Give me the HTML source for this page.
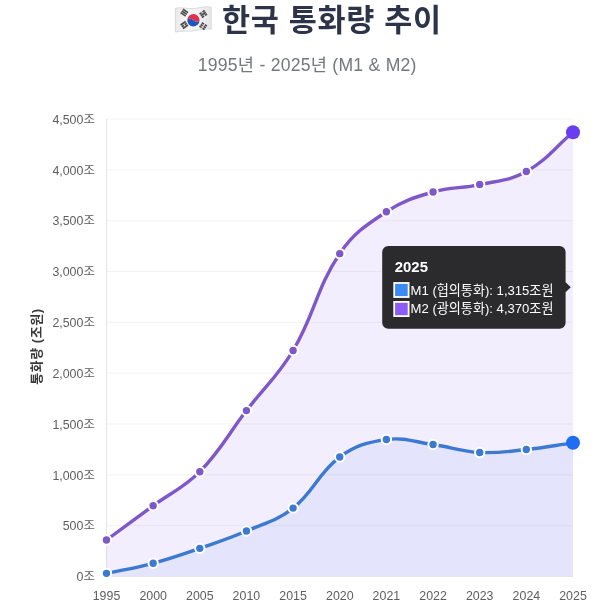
<!DOCTYPE html>
<html lang="ko"><head><meta charset="utf-8"><title>한국 통화량 추이</title>
<style>
html,body{margin:0;padding:0;background:#fff;}
body{width:600px;height:604px;overflow:hidden;font-family:'Liberation Sans', 'Noto Sans CJK KR', sans-serif;}
svg{display:block;}
text{font-family:'Liberation Sans', 'Noto Sans CJK KR', sans-serif;}
.tick{font-size:12.4px;fill:#5e5e5e;}
</style></head><body>
<svg width="600" height="604" viewBox="0 0 600 604">
<rect width="600" height="604" fill="#ffffff"/>
<defs><linearGradient id="fg" x1="0" y1="0" x2="1" y2="0"><stop offset="0" stop-color="#e9e9e9"/><stop offset="0.35" stop-color="#f7f7f7"/><stop offset="0.6" stop-color="#f3f3f3"/><stop offset="1" stop-color="#e6e6e6"/></linearGradient></defs>
<g id="flag">
<path d="M175.4,8.2 C181,7 187,9 193,8.6 C199,8.2 205,5.6 211.2,7.4 L211.2,29.4 C205,27.8 199,30 193,30.8 C187,31.6 181,30.6 175.4,32 Z" fill="url(#fg)" stroke="#d4d6d9" stroke-width="0.9"/>
<g transform="translate(193.4,20.3) rotate(2)">
<circle r="7.2" fill="#ffffff" opacity="0.7"/>
<path d="M-6.2,0 A6.2,6.2 0 0 1 6.2,0 C4.6,1.9 1.6,1.7 0,0 C-1.6,-1.7 -4.6,-1.9 -6.2,0 Z" fill="#e2304a"/>
<path d="M-6.2,0 A6.2,6.2 0 0 0 6.2,0 C4.6,1.9 1.6,1.7 0,0 C-1.6,-1.7 -4.6,-1.9 -6.2,0 Z" fill="#1f56c0"/>
</g>
<g stroke="#4a4a4a" stroke-width="1.6">
<g transform="translate(184.3,12.7) rotate(-56)"><path d="M-2.1,-3.1 V3.1 M0,-3.1 V3.1 M2.1,-3.1 V3.1"/></g>
<g transform="translate(203.2,26.2) rotate(-56)"><path d="M-2.1,-3.1 V-0.5 M-2.1,0.5 V3.1 M0,-3.1 V-0.5 M0,0.5 V3.1 M2.1,-3.1 V-0.5 M2.1,0.5 V3.1"/></g>
<g transform="translate(203.3,14.0) rotate(56)"><path d="M-2.1,-3.1 V-0.5 M-2.1,0.5 V3.1 M0,-3.1 V3.1 M2.1,-3.1 V-0.5 M2.1,0.5 V3.1"/></g>
<g transform="translate(184.3,25.0) rotate(56)"><path d="M-2.1,-3.1 V3.1 M0,-3.1 V-0.5 M0,0.5 V3.1 M2.1,-3.1 V3.1"/></g>
</g>
</g>
<text x="222" y="30.5" font-size="30.5" font-weight="700" letter-spacing="0.7" fill="#2d3348">한국 통화량 추이</text>
<text x="307.2" y="70.5" font-size="17.6" letter-spacing="0.25" text-anchor="middle" fill="#73777e">1995년 - 2025년 (M1 &amp; M2)</text>
<g stroke="#000" stroke-opacity="0.05" stroke-width="1">
<line x1="106.5" y1="576.50" x2="573.0" y2="576.50"/>
<line x1="106.5" y1="525.67" x2="573.0" y2="525.67"/>
<line x1="106.5" y1="474.83" x2="573.0" y2="474.83"/>
<line x1="106.5" y1="424.00" x2="573.0" y2="424.00"/>
<line x1="106.5" y1="373.17" x2="573.0" y2="373.17"/>
<line x1="106.5" y1="322.33" x2="573.0" y2="322.33"/>
<line x1="106.5" y1="271.50" x2="573.0" y2="271.50"/>
<line x1="106.5" y1="220.67" x2="573.0" y2="220.67"/>
<line x1="106.5" y1="169.83" x2="573.0" y2="169.83"/>
<line x1="106.5" y1="119.00" x2="573.0" y2="119.00"/>
<line x1="106.5" y1="119.0" x2="106.5" y2="576.5" stroke-opacity="0.1"/>
</g>
<text class="tick" x="94.8" y="581.2" text-anchor="end">0조</text>
<text class="tick" x="94.8" y="530.4" text-anchor="end">500조</text>
<text class="tick" x="94.8" y="479.5" text-anchor="end">1,000조</text>
<text class="tick" x="94.8" y="428.7" text-anchor="end">1,500조</text>
<text class="tick" x="94.8" y="377.9" text-anchor="end">2,000조</text>
<text class="tick" x="94.8" y="327.0" text-anchor="end">2,500조</text>
<text class="tick" x="94.8" y="276.2" text-anchor="end">3,000조</text>
<text class="tick" x="94.8" y="225.4" text-anchor="end">3,500조</text>
<text class="tick" x="94.8" y="174.5" text-anchor="end">4,000조</text>
<text class="tick" x="94.8" y="123.7" text-anchor="end">4,500조</text>
<text class="tick" x="106.5" y="599.8" text-anchor="middle">1995</text>
<text class="tick" x="153.2" y="599.8" text-anchor="middle">2000</text>
<text class="tick" x="199.8" y="599.8" text-anchor="middle">2005</text>
<text class="tick" x="246.4" y="599.8" text-anchor="middle">2010</text>
<text class="tick" x="293.1" y="599.8" text-anchor="middle">2015</text>
<text class="tick" x="339.8" y="599.8" text-anchor="middle">2020</text>
<text class="tick" x="386.4" y="599.8" text-anchor="middle">2021</text>
<text class="tick" x="433.1" y="599.8" text-anchor="middle">2022</text>
<text class="tick" x="479.7" y="599.8" text-anchor="middle">2023</text>
<text class="tick" x="526.4" y="599.8" text-anchor="middle">2024</text>
<text class="tick" x="573.0" y="599.8" text-anchor="middle">2025</text>
<text transform="translate(41,346.6) rotate(-90)" font-size="13" font-weight="700" letter-spacing="0.55" fill="#3a3a3a" text-anchor="middle">통화량 (조원)</text>
<path d="M106.50,540.00 C125.16,526.30 134.47,519.42 153.15,505.74 C171.79,492.09 183.79,488.01 199.80,471.68 C221.11,449.95 227.69,434.94 246.45,410.58 C265.01,386.47 277.64,376.51 293.10,350.50 C314.96,313.72 316.17,288.67 339.75,253.61 C353.49,233.16 365.76,225.35 386.40,211.72 C403.08,200.71 413.74,197.61 433.05,192.00 C451.06,186.76 461.27,188.61 479.70,184.57 C498.59,180.44 509.84,180.83 526.35,171.56 C547.16,159.88 554.34,147.95 573.00,132.22 L573.00,576.50 L106.50,576.50 Z" fill="rgba(139,92,246,0.10)"/>
<path d="M106.50,573.35 C125.16,569.32 134.73,568.22 153.15,563.28 C172.05,558.22 181.28,554.73 199.80,548.34 C218.60,541.84 228.20,538.93 246.45,531.05 C265.52,522.82 277.08,520.79 293.10,508.08 C314.40,491.18 318.06,472.97 339.75,457.04 C355.38,445.56 367.18,442.13 386.40,439.56 C404.50,437.13 414.47,441.97 433.05,444.54 C451.79,447.13 460.93,451.46 479.70,452.47 C498.25,453.46 507.77,451.44 526.35,449.52 C545.09,447.58 554.34,445.49 573.00,442.81 L573.00,576.50 L106.50,576.50 Z" fill="rgba(70,110,246,0.08)"/>
<path d="M106.50,540.00 C125.16,526.30 134.47,519.42 153.15,505.74 C171.79,492.09 183.79,488.01 199.80,471.68 C221.11,449.95 227.69,434.94 246.45,410.58 C265.01,386.47 277.64,376.51 293.10,350.50 C314.96,313.72 316.17,288.67 339.75,253.61 C353.49,233.16 365.76,225.35 386.40,211.72 C403.08,200.71 413.74,197.61 433.05,192.00 C451.06,186.76 461.27,188.61 479.70,184.57 C498.59,180.44 509.84,180.83 526.35,171.56 C547.16,159.88 554.34,147.95 573.00,132.22" fill="none" stroke="#7e57c8" stroke-width="3.4" stroke-linecap="round" stroke-linejoin="round"/>
<path d="M106.50,573.35 C125.16,569.32 134.73,568.22 153.15,563.28 C172.05,558.22 181.28,554.73 199.80,548.34 C218.60,541.84 228.20,538.93 246.45,531.05 C265.52,522.82 277.08,520.79 293.10,508.08 C314.40,491.18 318.06,472.97 339.75,457.04 C355.38,445.56 367.18,442.13 386.40,439.56 C404.50,437.13 414.47,441.97 433.05,444.54 C451.79,447.13 460.93,451.46 479.70,452.47 C498.25,453.46 507.77,451.44 526.35,449.52 C545.09,447.58 554.34,445.49 573.00,442.81" fill="none" stroke="#3b7ad0" stroke-width="3.4" stroke-linecap="round" stroke-linejoin="round"/>
<circle cx="106.50" cy="540.00" r="4.7" fill="#7e57c8" stroke="#fff" stroke-width="2"/>
<circle cx="153.15" cy="505.74" r="4.7" fill="#7e57c8" stroke="#fff" stroke-width="2"/>
<circle cx="199.80" cy="471.68" r="4.7" fill="#7e57c8" stroke="#fff" stroke-width="2"/>
<circle cx="246.45" cy="410.58" r="4.7" fill="#7e57c8" stroke="#fff" stroke-width="2"/>
<circle cx="293.10" cy="350.50" r="4.7" fill="#7e57c8" stroke="#fff" stroke-width="2"/>
<circle cx="339.75" cy="253.61" r="4.7" fill="#7e57c8" stroke="#fff" stroke-width="2"/>
<circle cx="386.40" cy="211.72" r="4.7" fill="#7e57c8" stroke="#fff" stroke-width="2"/>
<circle cx="433.05" cy="192.00" r="4.7" fill="#7e57c8" stroke="#fff" stroke-width="2"/>
<circle cx="479.70" cy="184.57" r="4.7" fill="#7e57c8" stroke="#fff" stroke-width="2"/>
<circle cx="526.35" cy="171.56" r="4.7" fill="#7e57c8" stroke="#fff" stroke-width="2"/>
<circle cx="573.00" cy="132.22" r="7" fill="#6a3df0"/>
<circle cx="106.50" cy="573.35" r="4.7" fill="#3b7ad0" stroke="#fff" stroke-width="2"/>
<circle cx="153.15" cy="563.28" r="4.7" fill="#3b7ad0" stroke="#fff" stroke-width="2"/>
<circle cx="199.80" cy="548.34" r="4.7" fill="#3b7ad0" stroke="#fff" stroke-width="2"/>
<circle cx="246.45" cy="531.05" r="4.7" fill="#3b7ad0" stroke="#fff" stroke-width="2"/>
<circle cx="293.10" cy="508.08" r="4.7" fill="#3b7ad0" stroke="#fff" stroke-width="2"/>
<circle cx="339.75" cy="457.04" r="4.7" fill="#3b7ad0" stroke="#fff" stroke-width="2"/>
<circle cx="386.40" cy="439.56" r="4.7" fill="#3b7ad0" stroke="#fff" stroke-width="2"/>
<circle cx="433.05" cy="444.54" r="4.7" fill="#3b7ad0" stroke="#fff" stroke-width="2"/>
<circle cx="479.70" cy="452.47" r="4.7" fill="#3b7ad0" stroke="#fff" stroke-width="2"/>
<circle cx="526.35" cy="449.52" r="4.7" fill="#3b7ad0" stroke="#fff" stroke-width="2"/>
<circle cx="573.00" cy="442.81" r="7" fill="#1f6df0"/>
<g id="tooltip">
<path d="M388.2,246 H559.6 a6,6 0 0 1 6,6 V282.3 L570.8,287.3 L565.6,292.3 V322.8 a6,6 0 0 1 -6,6 H388.2 a6,6 0 0 1 -6,-6 V252 a6,6 0 0 1 6,-6 Z" fill="#2b2b2e"/>
<text x="394.8" y="271.7" font-size="14.9" font-weight="700" fill="#ffffff">2025</text>
<rect x="394.2" y="283" width="14.4" height="14" fill="#3b8bf5" stroke="#ffffff" stroke-width="1.8"/>
<text x="410.6" y="295.2" font-size="13.1" fill="#ffffff">M1 (협의통화): 1,315조원</text>
<rect x="394.2" y="301.9" width="14.4" height="14.2" fill="#8b5cf6" stroke="#ffffff" stroke-width="1.8"/>
<text x="410.6" y="313.1" font-size="13.1" fill="#ffffff">M2 (광의통화): 4,370조원</text>
</g>
</svg>
</body></html>
